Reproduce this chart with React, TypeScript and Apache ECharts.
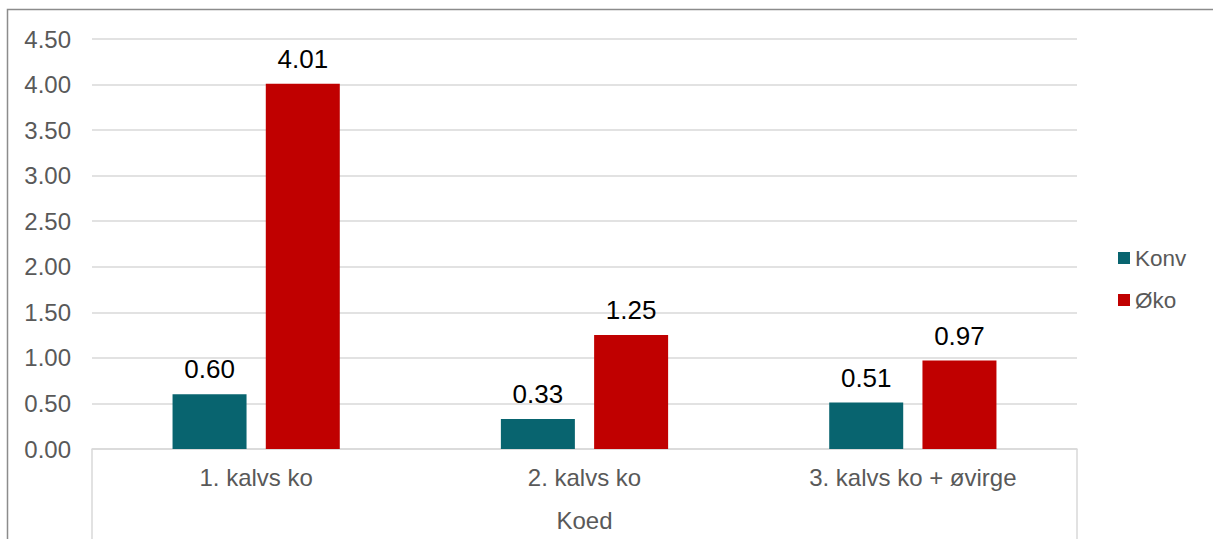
import React, { useEffect, useRef } from "react";
import * as echarts from "echarts";

const categories = ["1. kalvs ko", "2. kalvs ko", "3. kalvs ko + øvirge"];
const konv = [0.6, 0.33, 0.51];
const oko = [4.01, 1.25, 0.97];
const seriesNames = ["Konv", "Øko"];
const axisTitle = "Koed";

const FONT = "'Liberation Sans', Arial, sans-serif";

export default function App() {
  const ref = useRef<HTMLDivElement>(null);
  useEffect(() => {
    if (!ref.current) return;
    const chart = echarts.init(ref.current, undefined, { renderer: "svg" });
    const gridLeft = 92;
    const gridRight = 136;
    const gridTop = 39;
    const gridBottom = 90;
    const W = 1213;
    const H = 539;
    const labelStyle = {
      show: true,
      position: "top",
      distance: 12,
      color: "#000000",
      fontSize: 26,
      fontFamily: FONT,
      formatter: (p: any) => Number(p.value).toFixed(2),
    };
    chart.setOption({
      animation: false,
      backgroundColor: "#ffffff",
      textStyle: { fontFamily: FONT },
      grid: { left: gridLeft, right: gridRight, top: gridTop, bottom: gridBottom, containLabel: false },
      legend: {
        orient: "vertical",
        left: 1113,
        top: 241,
        itemWidth: 12,
        itemHeight: 12,
        itemGap: 18,
        icon: "rect",
        textStyle: { color: "#595959", fontSize: 22.5, fontFamily: FONT, lineHeight: 24 },
        data: seriesNames,
      },
      xAxis: {
        type: "category",
        data: categories,
        axisLine: { show: true, lineStyle: { color: "#D9D9D9", width: 1.5 } },
        axisTick: { show: false },
        axisLabel: { color: "#595959", fontSize: 24, fontFamily: FONT, margin: 16 },
        name: axisTitle,
        nameLocation: "middle",
        nameGap: 59,
        nameTextStyle: { color: "#595959", fontSize: 24, fontFamily: FONT },
      },
      yAxis: {
        type: "value",
        min: 0,
        max: 4.5,
        interval: 0.5,
        axisLine: { show: false },
        axisTick: { show: false },
        axisLabel: {
          color: "#595959",
          fontSize: 24,
          fontFamily: FONT,
          margin: 21,
          formatter: (v: number) => v.toFixed(2),
        },
        splitLine: { lineStyle: { color: "#D9D9D9", width: 1.5 } },
      },
      graphic: [
        {
          type: "rect",
          shape: { x: 7.5, y: 9.5, width: 1400, height: 800 },
          style: { fill: "none", stroke: "#8C8C8C", lineWidth: 1.5 },
          silent: true,
        },
        {
          type: "line",
          shape: { x1: gridLeft, y1: H - gridBottom, x2: gridLeft, y2: H },
          style: { stroke: "#D9D9D9", lineWidth: 1.5 },
          silent: true,
        },
        {
          type: "line",
          shape: { x1: W - gridRight, y1: H - gridBottom, x2: W - gridRight, y2: H },
          style: { stroke: "#D9D9D9", lineWidth: 1.5 },
          silent: true,
        },
      ],
      series: [
        {
          name: seriesNames[0],
          type: "bar",
          data: konv,
          barWidth: 74,
          barGap: "26%",
          itemStyle: { color: "#08646F" },
          label: labelStyle,
        },
        {
          name: seriesNames[1],
          type: "bar",
          data: oko,
          barWidth: 74,
          barGap: "26%",
          itemStyle: { color: "#C00000" },
          label: labelStyle,
        },
      ],
    });
    return () => chart.dispose();
  }, []);
  return (
    <div
      ref={ref}
      style={{ position: "fixed", left: 0, top: 0, width: 1213, height: 539, background: "#fff" }}
    />
  );
}
